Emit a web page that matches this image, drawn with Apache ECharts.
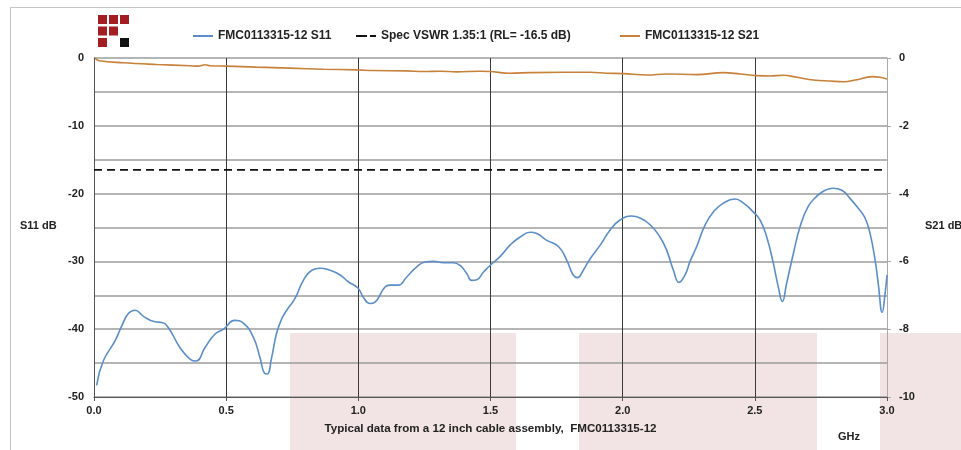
<!DOCTYPE html>
<html>
<head>
<meta charset="utf-8">
<script src="https://cdn.jsdelivr.net/npm/echarts@6/dist/echarts.min.js"></script>
<style>html,body{margin:0;padding:0;background:#fff;}#c{width:961px;height:450px;}</style>
</head>
<body>
<div id="c"></div>
<script>
// ---- data ----
var s11Freq = [0.01,0.035,0.08,0.105,0.13,0.155,0.187,0.23,0.256,0.28,0.325,0.363,0.386,0.42,0.458,0.49,0.533,0.565,0.603,0.628,0.645,0.655,0.672,0.69,0.71,0.729,0.76,0.792,0.824,0.855,0.893,0.931,0.962,1.0,1.019,1.044,1.063,1.10,1.12,1.151,1.183,1.221,1.252,1.284,1.322,1.359,1.385,1.41,1.429,1.448,1.473,1.498,1.536,1.574,1.612,1.65,1.675,1.713,1.757,1.788,1.813,1.829,1.851,1.877,1.915,1.952,1.99,2.034,2.066,2.104,2.141,2.166,2.192,2.213,2.236,2.255,2.28,2.312,2.343,2.381,2.425,2.457,2.494,2.52,2.545,2.57,2.589,2.604,2.62,2.646,2.671,2.702,2.734,2.766,2.797,2.829,2.86,2.892,2.917,2.936,2.955,2.967,2.982,2.992,3.0];
var s11Vals = [-48.3,-44.7,-41.7,-39.5,-37.7,-37.2,-38.1,-38.9,-39.0,-39.7,-42.7,-44.4,-44.7,-42.7,-40.7,-40.0,-38.7,-39.1,-41.2,-44.2,-46.5,-46.6,-44.2,-40.7,-38.5,-37.2,-35.5,-32.8,-31.3,-31.0,-31.3,-32.0,-33.0,-34.0,-35.3,-36.2,-36.0,-33.8,-33.5,-33.5,-32.3,-30.8,-30.1,-30.0,-30.2,-30.2,-30.6,-31.8,-32.8,-32.7,-31.6,-30.6,-29.3,-27.6,-26.4,-25.7,-25.9,-26.9,-27.8,-29.8,-32.0,-32.4,-31.3,-29.6,-27.6,-25.4,-23.9,-23.3,-23.6,-24.6,-26.4,-28.3,-31.3,-33.1,-32.0,-30.0,-27.8,-24.6,-22.7,-21.4,-20.8,-21.4,-22.7,-23.9,-26.4,-30.3,-33.8,-35.9,-33.3,-28.8,-24.9,-21.9,-20.4,-19.5,-19.2,-19.5,-20.7,-22.2,-23.6,-25.9,-29.8,-33.3,-37.5,-35.0,-32.0];
var s21Freq = [0.004,0.02,0.111,0.237,0.363,0.394,0.42,0.439,0.502,0.615,0.742,0.868,0.994,1.057,1.183,1.246,1.309,1.372,1.46,1.498,1.574,1.65,1.776,1.877,1.94,2.003,2.091,2.167,2.28,2.381,2.444,2.507,2.558,2.608,2.659,2.722,2.785,2.835,2.886,2.943,2.974,3.0];
var s21Vals = [-0.01,-0.08,-0.14,-0.19,-0.23,-0.24,-0.20,-0.23,-0.24,-0.27,-0.30,-0.33,-0.35,-0.37,-0.38,-0.40,-0.39,-0.41,-0.39,-0.40,-0.45,-0.43,-0.42,-0.42,-0.45,-0.46,-0.50,-0.47,-0.49,-0.43,-0.47,-0.52,-0.53,-0.51,-0.57,-0.65,-0.68,-0.70,-0.64,-0.55,-0.57,-0.62];
var specRL = -16.5;
var specFreq = [0, 3];
var s11Name = 'FMC0113315-12 S11';
var specName = 'Spec VSWR 1.35:1 (RL= -16.5 dB)';
var s21Name = 'FMC0113315-12 S21';

function pairs(xs, ys){ return xs.map(function(x,i){ return [x, ys[i]]; }); }

var FONT = 'Liberation Sans, Arial, sans-serif';
var chart = echarts.init(document.getElementById('c'), null, {renderer:'canvas'});
var lbl = {color:'#222', fontFamily:FONT, fontWeight:'bold', fontSize:11};

var logoCells = [[0,0,'#a31d22'],[1,0,'#a31d22'],[2,0,'#a31d22'],[0,1,'#a31d22'],[1,1,'#a31d22'],[0,2,'#a31d22'],[2,2,'#111']];
var graphics = [
  {type:'rect', z:-10, shape:{x:10.5,y:7.5,width:980,height:460}, style:{fill:'#fff', stroke:'#c4c4c4', lineWidth:1}},
  {type:'rect', z:-5, shape:{x:290,y:333,width:226,height:117}, style:{fill:'#f2e4e4'}},
  {type:'rect', z:-5, shape:{x:579,y:333,width:238,height:117}, style:{fill:'#f2e4e4'}},
  {type:'rect', z:-5, shape:{x:880,y:333,width:81,height:117}, style:{fill:'#f2e4e4'}},
  {type:'text', left:20, top:220, style:{text:'S11 dB', fill:'#222', font:'bold 11px '+FONT}},
  {type:'text', left:925, top:220, style:{text:'S21 dB', fill:'#222', font:'bold 11px '+FONT}},
  {type:'text', left:838, top:431, style:{text:'GHz', fill:'#222', font:'bold 11px '+FONT}}
];
logoCells.forEach(function(c){
  graphics.push({type:'rect', z:5, shape:{x:98+c[0]*11, y:15+c[1]*11.5, width:9, height:9}, style:{fill:c[2]}});
});

var legTxt = {color:'#222', fontFamily:FONT, fontWeight:'bold', fontSize:12};
function leg(left, name, icon, w){
  return {top:25, left:left, itemWidth:w, itemHeight:2, itemGap:4, textStyle:legTxt,
          data:[{name:name, icon:icon}]};
}

var option = {
  animation:false,
  backgroundColor:'transparent',
  graphic: graphics,
  legend:[
    leg(188, s11Name, 'rect', 20),
    leg(351, specName, 'path://M0,0h11v2h-11z M14,0h6v2h-6z', 20),
    leg(615, s21Name, 'rect', 20)
  ],
  grid:{left:94, right:74, top:58, bottom:53, containLabel:false},
  xAxis:{
    type:'value', min:0, max:3, interval:0.5,
    name:'Typical data from a 12 inch cable assembly,  FMC0113315-12',
    nameLocation:'middle', nameGap:26,
    nameTextStyle:{color:'#222', fontFamily:FONT, fontWeight:'bold', fontSize:11.6},
    axisLine:{show:true, onZero:false, lineStyle:{color:'#555', width:1}},
    axisTick:{show:true, length:4, lineStyle:{color:'#555'}},
    axisLabel:Object.assign({margin:8, formatter:function(v){ return v.toFixed(1); }}, lbl),
    splitLine:{show:true, lineStyle:{color:'#3a3a3a', width:1}}
  },
  yAxis:[
    {
      type:'value', min:-50, max:0, interval:5, position:'left',
      axisLine:{show:true, lineStyle:{color:'#555', width:1}},
      axisTick:{show:false},
      axisLabel:Object.assign({margin:10, formatter:function(v){ return (v % 10 === 0) ? String(v) : ''; }}, lbl),
      splitLine:{show:true, lineStyle:{color:'#9c9c9c', width:1.6}}
    },
    {
      type:'value', min:-10, max:0, interval:2, position:'right',
      axisLine:{show:true, lineStyle:{color:'#aaa', width:1}},
      axisTick:{show:true, length:4, lineStyle:{color:'#aaa'}},
      axisLabel:Object.assign({margin:12}, lbl),
      splitLine:{show:false}
    }
  ],
  series:[
    {
      name:s11Name, type:'line', yAxisIndex:0, data:pairs(s11Freq, s11Vals),
      showSymbol:false, symbol:'none', smooth:0.5,
      lineStyle:{color:'#5b8ec9', width:1.6}, itemStyle:{color:'#5b8ec9'}, z:4
    },
    {
      name:specName, type:'line', yAxisIndex:0, data:pairs(specFreq, [specRL, specRL]),
      showSymbol:false, symbol:'none',
      lineStyle:{color:'#111', width:1.6, type:[8,5]}, itemStyle:{color:'#111'}, z:3
    },
    {
      name:s21Name, type:'line', yAxisIndex:1, data:pairs(s21Freq, s21Vals),
      showSymbol:false, symbol:'none', smooth:0.4,
      lineStyle:{color:'#c8813a', width:1.6}, itemStyle:{color:'#c8813a'}, z:4
    }
  ]
};
chart.setOption(option);
</script>
</body>
</html>
